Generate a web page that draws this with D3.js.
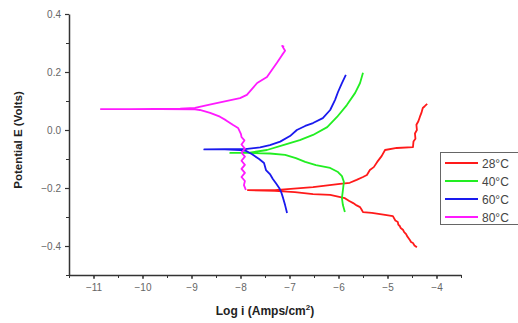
<!DOCTYPE html>
<html>
<head>
<meta charset="utf-8">
<script src="https://cdn.jsdelivr.net/npm/d3@7"></script>
<style>
  body { margin: 0; background: #fff; }
  svg { display: block; font-family: Arial, "Liberation Sans", sans-serif; }
</style>
</head>
<body>
<svg id="chart" width="518" height="323"></svg>
<script>
// series: log i (Amps/cm2) and potential E (Volts)
var labels = ["28°C", "40°C", "60°C", "80°C"];
var colors = ["#ff1a1a", "#22ee22", "#1a1aee", "#ff1aff"];

var logI28 = [-4.40, -4.45, -4.48, -4.52, -4.54, -4.60, -4.62, -4.66, -4.68, -4.73, -4.75, -4.78, -4.79, -4.84, -4.89, -5.05, -5.32, -5.50, -5.53, -5.56, -5.63, -5.70, -5.78, -5.87, -6.17, -6.52, -6.89, -7.30, -7.85,
              -7.30, -6.52, -5.97, -5.77, -5.63, -5.50, -5.42, -5.36, -5.28, -5.21, -5.12, -5.05, -4.81, -4.48, -4.47, -4.43, -4.44, -4.40, -4.41, -4.37, -4.34, -4.31, -4.28, -4.24, -4.19];
var e28 = [-0.404, -0.398, -0.390, -0.386, -0.380, -0.366, -0.359, -0.352, -0.345, -0.338, -0.331, -0.326, -0.317, -0.312, -0.297, -0.293, -0.286, -0.283, -0.274, -0.266, -0.260, -0.252, -0.245, -0.235, -0.224, -0.221, -0.214, -0.210, -0.207,
           -0.207, -0.197, -0.186, -0.182, -0.172, -0.162, -0.155, -0.138, -0.128, -0.110, -0.090, -0.069, -0.062, -0.059, -0.040, -0.030, -0.012, 0.000, 0.018, 0.030, 0.045, 0.058, 0.076, 0.082, 0.090];

var logI40 = [-5.87, -5.91, -5.93, -5.91, -5.89, -5.93, -6.01, -6.17, -6.46, -6.68, -6.87, -7.09, -7.40, -7.81, -8.21,
              -7.81, -7.46, -7.13, -6.79, -6.52, -6.23, -6.03, -5.83, -5.66, -5.56, -5.50];
var e40 = [-0.283, -0.259, -0.235, -0.207, -0.179, -0.159, -0.145, -0.131, -0.121, -0.110, -0.097, -0.086, -0.081, -0.079, -0.079,
           -0.078, -0.069, -0.052, -0.035, -0.017, 0.010, 0.045, 0.086, 0.128, 0.162, 0.197];

var logI60 = [-7.05, -7.09, -7.13, -7.17, -7.21, -7.28, -7.34, -7.40, -7.48, -7.52, -7.62, -7.77, -7.89, -8.01, -8.32, -8.74,
              -8.32, -7.91, -7.60, -7.40, -7.19, -6.99, -6.85, -6.68, -6.52, -6.32, -6.17, -6.07, -6.01, -5.93, -5.85];
var e60 = [-0.286, -0.259, -0.235, -0.214, -0.200, -0.183, -0.169, -0.152, -0.138, -0.114, -0.100, -0.083, -0.072, -0.069, -0.067, -0.067,
           -0.066, -0.066, -0.060, -0.052, -0.040, -0.021, 0.000, 0.014, 0.024, 0.041, 0.069, 0.104, 0.131, 0.162, 0.190];

var logI80 = [-7.89, -7.93, -7.91, -7.98, -7.91, -7.98, -7.91, -7.98, -7.91, -7.98, -7.91, -7.98, -7.92, -7.98, -7.99, -8.05, -8.15, -8.30, -8.42, -8.62, -8.83, -8.93, -9.64, -10.26, -10.85,
              -10.26, -9.23, -8.93, -8.56, -8.01, -7.87, -7.66, -7.46, -7.26, -7.15, -7.09, -7.15, -7.11];
var e80 = [-0.207, -0.190, -0.176, -0.162, -0.148, -0.134, -0.120, -0.106, -0.092, -0.078, -0.064, -0.050, -0.036, -0.024, -0.014, 0.007, 0.017, 0.034, 0.046, 0.059, 0.069, 0.071, 0.072, 0.072, 0.072,
           0.072, 0.074, 0.076, 0.090, 0.110, 0.121, 0.162, 0.183, 0.231, 0.259, 0.273, 0.290, 0.287];

var xTicks = [-11, -10, -9, -8, -7, -6, -5, -4];
var yTicks = [-0.4, -0.2, 0.0, 0.2, 0.4];

var series = [
  {name: labels[0], x: logI28, y: e28},
  {name: labels[1], x: logI40, y: e40},
  {name: labels[2], x: logI60, y: e60},
  {name: labels[3], x: logI80, y: e80}
];

var svg = d3.select("#chart");
var x = d3.scaleLinear().domain([-11.5, -3.5]).range([69, 461]);
var y = d3.scaleLinear().domain([-0.5, 0.4]).range([275, 14]);

// minor ticks
svg.append("g").attr("transform", "translate(0,275)")
  .call(d3.axisBottom(x).tickValues(d3.range(-11.5, -3.4, 0.5)).tickSize(3).tickFormat(""))
  .call(function(g){ g.select(".domain").remove(); g.selectAll("line").attr("stroke", "#333"); });
svg.append("g").attr("transform", "translate(69,0)")
  .call(d3.axisLeft(y).tickValues([-0.5, -0.3, -0.1, 0.1, 0.3]).tickSize(3).tickFormat(""))
  .call(function(g){ g.select(".domain").remove(); g.selectAll("line").attr("stroke", "#333"); });

var gx = svg.append("g").attr("transform", "translate(0,275)")
  .call(d3.axisBottom(x).tickValues(xTicks).tickSize(4).tickSizeOuter(0).tickPadding(5).tickFormat(d3.format("d")));
var gy = svg.append("g").attr("transform", "translate(69,0)")
  .call(d3.axisLeft(y).tickValues(yTicks).tickSize(4).tickSizeOuter(0).tickPadding(4).tickFormat(d3.format(".1f")));
[gx, gy].forEach(function(g){
  g.select(".domain").attr("stroke", "#333").attr("stroke-width", 1.5);
  g.selectAll(".tick line").attr("stroke", "#333").attr("stroke-width", 1.2);
  g.selectAll(".tick text").attr("fill", "#666").attr("font-size", 10);
});

var line = d3.line()
  .x(function(d){ return x(d[0]); })
  .y(function(d){ return y(d[1]); });

svg.selectAll("path.curve").data(series).enter().append("path")
  .attr("class", "curve")
  .attr("d", function(s){ return line(s.x.map(function(v, i){ return [v, s.y[i]]; })); })
  .attr("fill", "none")
  .attr("stroke", function(s, i){ return colors[i]; })
  .attr("stroke-width", 1.8)
  .attr("stroke-linejoin", "round");

// axis titles
svg.append("text")
  .attr("transform", "translate(22,140) rotate(-90)")
  .attr("text-anchor", "middle")
  .attr("font-size", 11.5).attr("font-weight", "bold").attr("fill", "#222")
  .text("Potential E (Volts)");
var xt = svg.append("text")
  .attr("x", 265).attr("y", 315)
  .attr("text-anchor", "middle")
  .attr("font-size", 12).attr("font-weight", "bold").attr("fill", "#222");
xt.append("tspan").text("Log i (Amps/cm");
xt.append("tspan").attr("dy", -5).attr("font-size", 8).text("2");
xt.append("tspan").attr("dy", 5).text(")");

// legend
var lg = svg.append("g");
lg.append("rect").attr("x", 440.5).attr("y", 152.5).attr("width", 85).attr("height", 72)
  .attr("fill", "#fff").attr("stroke", "#666").attr("stroke-width", 1);
var rows = lg.selectAll("g.row").data(labels).enter().append("g")
  .attr("class", "row")
  .attr("transform", function(d, i){ return "translate(0," + (163 + i * 18) + ")"; });
rows.append("line").attr("x1", 445).attr("x2", 478).attr("y1", 0).attr("y2", 0)
  .attr("stroke", function(d, i){ return colors[i]; }).attr("stroke-width", 2);
rows.append("text").attr("x", 482).attr("y", 4.5)
  .attr("font-size", 12).attr("fill", "#444").text(function(d){ return d; });
</script>
</body>
</html>
